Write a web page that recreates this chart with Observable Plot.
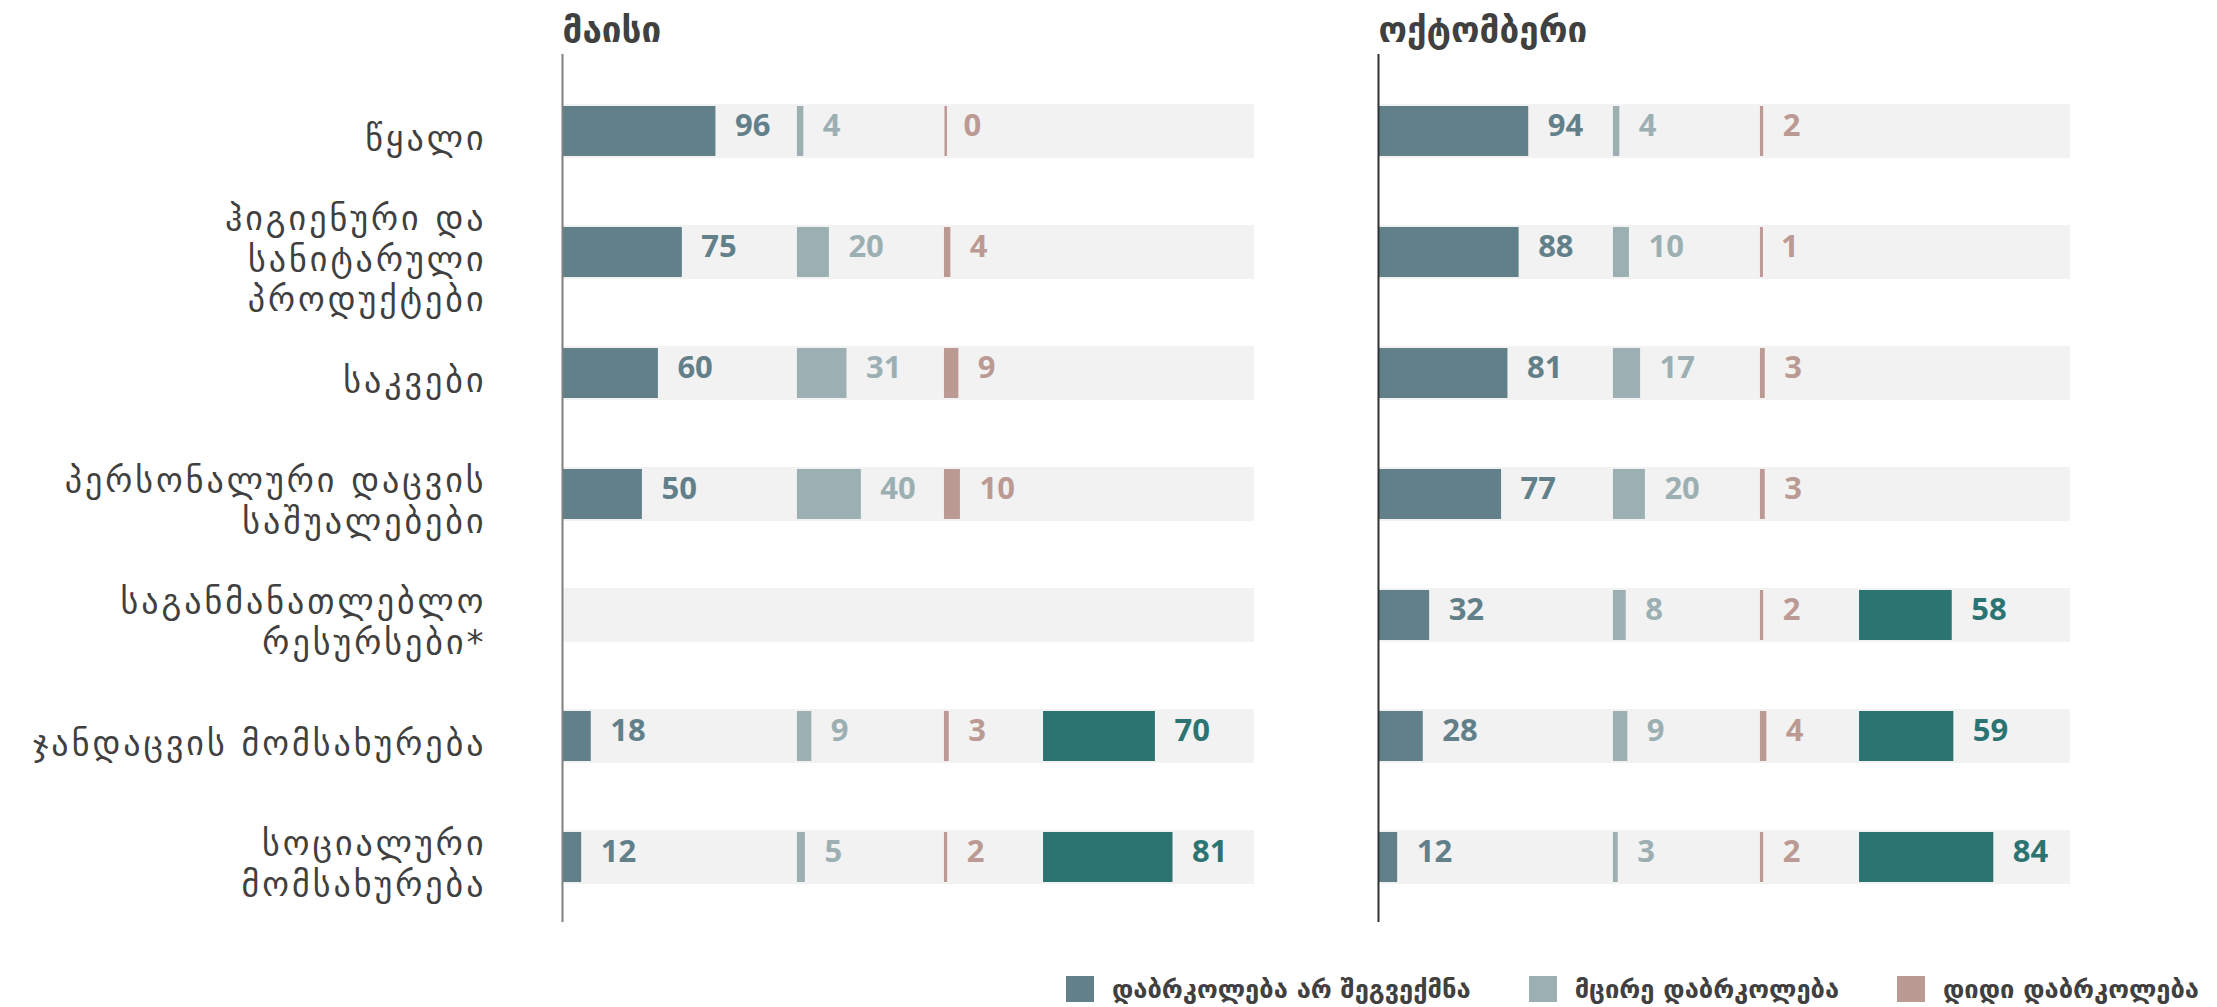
<!DOCTYPE html>
<html>
<head>
<meta charset="utf-8">
<script src="https://cdn.jsdelivr.net/npm/d3@7"></script>
<script src="https://cdn.jsdelivr.net/npm/@observablehq/plot@0.6"></script>
<style>
  html, body { margin: 0; padding: 0; background: #ffffff; }
  body { width: 2217px; height: 1007px; overflow: hidden; font-family: "DejaVu Sans", sans-serif; }
  #chart svg { display: block; }
  #legend { display: flex; justify-content: flex-end; align-items: center; gap: 58px; padding-right: 18px; margin-top: 24px; }
  .item { display: flex; align-items: center; gap: 18px; font-weight: bold; font-size: 25.5px; color: #404040; }
  .sw { width: 28px; height: 26px; }
</style>
</head>
<body>
<div id="chart"></div>
<div id="legend"></div>
<script>
// ---- data ----
const months = ["მაისი", "ოქტომბერი"];
const categories = [
  "წყალი",
  "ჰიგიენური და\nსანიტარული\nპროდუქტები",
  "საკვები",
  "პერსონალური დაცვის\nსაშუალებები",
  "საგანმანათლებლო\nრესურსები*",
  "ჯანდაცვის მომსახურება",
  "სოციალური\nმომსახურება"
];
const series = ["დაბრკოლება არ შეგვექმნა", "მცირე დაბრკოლება", "დიდი დაბრკოლება", "სერია 4"];
const legendSeries = [0, 1, 2];

const mayNone  = [96, 75, 60, 50, null, 18, 12];
const maySmall = [4, 20, 31, 40, null, 9, 5];
const mayBig   = [0, 4, 9, 10, null, 3, 2];
const mayTeal  = [null, null, null, null, null, 70, 81];

const octNone  = [94, 88, 81, 77, 32, 28, 12];
const octSmall = [4, 10, 17, 20, 8, 9, 3];
const octBig   = [2, 1, 3, 3, 2, 4, 2];
const octTeal  = [null, null, null, null, 58, 59, 84];

// ---- layout / style ----
const colors = ["#62808a", "#9cb0b3", "#bb9a94", "#2c7472"];
const colStart = [0, 147, 239, 301];   // column offsets within each panel (units)
const panelMax = 433;

const monthSeries = [[mayNone, maySmall, mayBig, mayTeal], [octNone, octSmall, octBig, octTeal]];
const rows = [];
months.forEach((m, mi) => {
  monthSeries[mi].forEach((vals, k) => {
    vals.forEach((v, ci) => {
      if (v == null) return;
      rows.push({month: m, cat: categories[ci], series: series[k], k, value: v,
                 x1: colStart[k], x2: colStart[k] + v});
    });
  });
});

const numFont = "'Open Sans', 'DejaVu Sans', sans-serif";
const geoFont = "'DejaVu Sans', sans-serif";
const labelSize = 34;

const chart = Plot.plot({
  width: 2217,
  height: 950,
  marginLeft: 562,
  marginRight: 147,
  marginTop: 54,
  marginBottom: 28,
  style: {background: "#ffffff", overflow: "visible"},
  fx: {domain: months, paddingInner: 0.152, paddingOuter: 0, axis: null, label: null},
  x: {domain: [0, panelMax], axis: null},
  y: {domain: categories, paddingInner: 0.555, paddingOuter: 0.36, align: 0.57, axis: null},
  color: {domain: series, range: colors},
  marks: [
    Plot.barX(categories, {y: d => d, x1: () => 0, x2: () => panelMax, fill: "#f2f2f2"}),
    Plot.barX(rows, {fx: "month", y: "cat", x1: "x1", x2: "x2", fill: "series", insetTop: 2, insetBottom: 2}),
    Plot.tickX(rows, {fx: "month", y: "cat", x: "x1", stroke: "series", strokeWidth: 2.5, dx: 1.25, insetTop: 2, insetBottom: 2}),
    Plot.text(rows, {fx: "month", y: "cat", x: "x2", text: d => String(d.value), fill: "series",
      textAnchor: "start", dx: 19, dy: -5, fontSize: 31, fontWeight: "bold", fontFamily: numFont}),
    Plot.ruleX([{m: months[0]}], {fx: "m", x: () => 0, stroke: "#808080", strokeWidth: 2}),
    Plot.ruleX([{m: months[1]}], {fx: "m", x: () => 0, stroke: "#333333", strokeWidth: 2}),
    Plot.text(months, {fx: d => d, text: d => d, frameAnchor: "top-left", lineAnchor: "bottom", textAnchor: "start",
      dy: -13, fontSize: 35, fontWeight: "bold", fill: "#404040", fontFamily: geoFont}),
    Plot.text(categories.map(c => ({c, m: months[0]})), {fx: "m", y: "c", x: () => 0, text: "c",
      textAnchor: "end", dx: -76, dy: 5, fontSize: labelSize, lineHeight: 1.2, fill: "#404040", fontFamily: geoFont})
  ]
});
// widen the category labels slightly to match the reference's wider Georgian face
d3.select(chart).selectAll("g")
  .filter(function() { return this.getAttribute("font-size") === String(labelSize); })
  .attr("letter-spacing", "3px");
document.getElementById("chart").appendChild(chart);

const legend = document.getElementById("legend");
legendSeries.forEach(k => {
  const item = document.createElement("div");
  item.className = "item";
  const sw = document.createElement("div");
  sw.className = "sw";
  sw.style.background = colors[k];
  const label = document.createElement("span");
  label.textContent = series[k];
  item.appendChild(sw);
  item.appendChild(label);
  legend.appendChild(item);
});
</script>
</body>
</html>
